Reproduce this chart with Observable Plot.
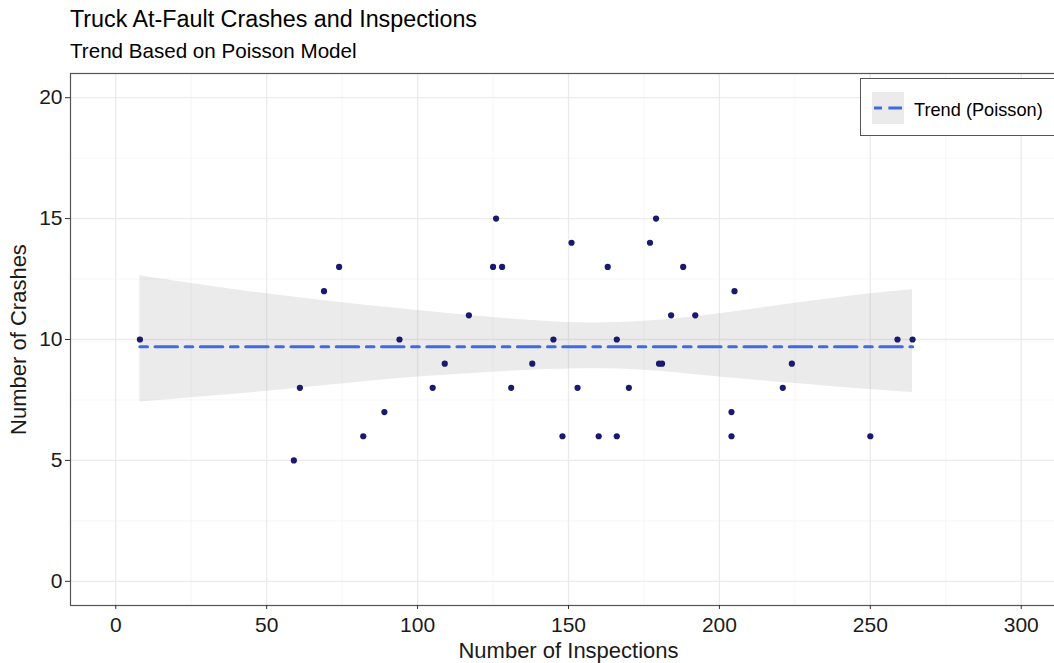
<!DOCTYPE html>
<html><head><meta charset="utf-8">
<script src="https://cdn.jsdelivr.net/npm/d3@7"></script>
<script src="https://cdn.jsdelivr.net/npm/@observablehq/plot@0.6"></script>
<style>
html,body{margin:0;padding:0;background:#fff;overflow:hidden;width:1054px;height:663px;}
#wrap{position:relative;width:1054px;height:663px;overflow:hidden;font-family:"Liberation Sans",Arial,sans-serif;}
#title{position:absolute;left:70px;top:8.3px;font-size:23.3px;line-height:1;color:#000;white-space:nowrap;}
#subtitle{position:absolute;left:70px;top:40.5px;font-size:20.6px;line-height:1;color:#000;white-space:nowrap;}
#chart{position:absolute;left:0;top:60px;width:1100px;height:603px;}
#chart svg{max-width:none !important;width:1100px !important;height:603px !important;}
#legend{position:absolute;left:860px;top:78px;width:230px;height:58px;border:1.2px solid #555;background:#fff;box-sizing:border-box;}
#legkey{position:absolute;left:872px;top:92px;}
#legtext{position:absolute;left:914px;top:100.6px;font-size:18.2px;line-height:1;color:#000;white-space:nowrap;}
</style>
</head><body>
<div id="wrap">
  <div id="title">Truck At-Fault Crashes and Inspections</div>
  <div id="subtitle">Trend Based on Poisson Model</div>
  <div id="chart"></div>
  <div id="legend"></div>
  <svg id="legkey" width="32" height="32"><rect x="0" y="0" width="32" height="32" fill="#ebebeb"></rect><line x1="2" x2="30" y1="16" y2="16" stroke="#4169e1" stroke-width="3.2" stroke-dasharray="8,6.4,22"></line></svg>
  <div id="legtext">Trend (Poisson)</div>
</div>
<script>
// Observations
const inspections = [8,59,61,69,74,82,89,94,105,109,117,126,125,128,131,138,145,148,151,153,160,163,166,166,170,177,179,180,181,184,188,192,205,204,204,224,221,250,259,264];
const crashes     = [10,5,8,12,13,6,7,10,8,9,11,15,13,13,8,9,10,6,14,8,6,13,6,10,8,14,15,9,9,11,13,11,12,7,6,9,8,6,10,10];

// Poisson trend and confidence band
const trendX = [8, 264];
const trendY = [9.7, 9.7];
const bandX  = [8, 50, 100, 150, 175, 200, 225, 250, 264];
const bandLo = [7.42, 7.86, 8.45, 8.78, 8.73, 8.45, 8.18, 7.93, 7.80];
const bandHi = [12.64, 11.89, 11.20, 10.70, 10.75, 11.07, 11.50, 11.89, 12.06];

// Ticks
const xTicks = [0, 50, 100, 150, 200, 250, 300];
const xMinor = [25, 75, 125, 175, 225, 275];
const yTicks = [0, 5, 10, 15, 20];
const yMinor = [2.5, 7.5, 12.5, 17.5];

const points = inspections.map((x, i) => ({x, y: crashes[i]}));
const band = bandX.map((x, i) => ({x, lo: bandLo[i], hi: bandHi[i]}));
const trend = trendX.map((x, i) => ({x, y: trendY[i]}));

const plot = Plot.plot({
  width: 1100, height: 603,
  marginLeft: 70, marginRight: 34, marginTop: 13, marginBottom: 58,
  x: {domain: [-15, 315]},
  y: {domain: [-1, 21]},
  style: {fontFamily: "'Liberation Sans', Arial, sans-serif", fontSize: "21px", color: "#1a1a1a", background: "white", overflow: "visible", maxWidth: "none"},
  marks: [
    Plot.gridX(xMinor, {stroke: "#f2f2f2", strokeOpacity: 1, strokeWidth: 0.7}),
    Plot.gridY(yMinor, {stroke: "#f2f2f2", strokeOpacity: 1, strokeWidth: 0.7}),
    Plot.gridX(xTicks, {stroke: "#ebebeb", strokeOpacity: 1, strokeWidth: 1.3}),
    Plot.gridY(yTicks, {stroke: "#ebebeb", strokeOpacity: 1, strokeWidth: 1.3}),
    Plot.areaY(band, {x: "x", y1: "lo", y2: "hi", fill: "#999999", fillOpacity: 0.2, curve: "catmull-rom"}),
    Plot.lineY(trend, {x: "x", y: "y", stroke: "#4169e1", strokeWidth: 3.2, strokeDasharray: "7.5,7.7,22.3,7.8"}),
    Plot.dot(points, {x: "x", y: "y", r: 3.1, fill: "#191970"}),
    Plot.frame({stroke: "#555", strokeWidth: 1.2}),
    Plot.axisX(xTicks, {tickSize: 4, tickPadding: 8, stroke: "#333", label: "Number of Inspections", labelAnchor: "center", labelArrow: "none", labelOffset: 52, fontSize: 21}),
    Plot.axisY(yTicks, {tickSize: 5, tickPadding: 3, stroke: "#333", label: "Number of Crashes", labelAnchor: "center", labelArrow: "none", labelOffset: 60, fontSize: 21})
  ]
});
document.getElementById("chart").appendChild(plot);
plot.querySelectorAll("[aria-label='x-axis label'] text, [aria-label='y-axis label'] text").forEach(t => t.setAttribute("font-size", "22"));
</script>
</body></html>
